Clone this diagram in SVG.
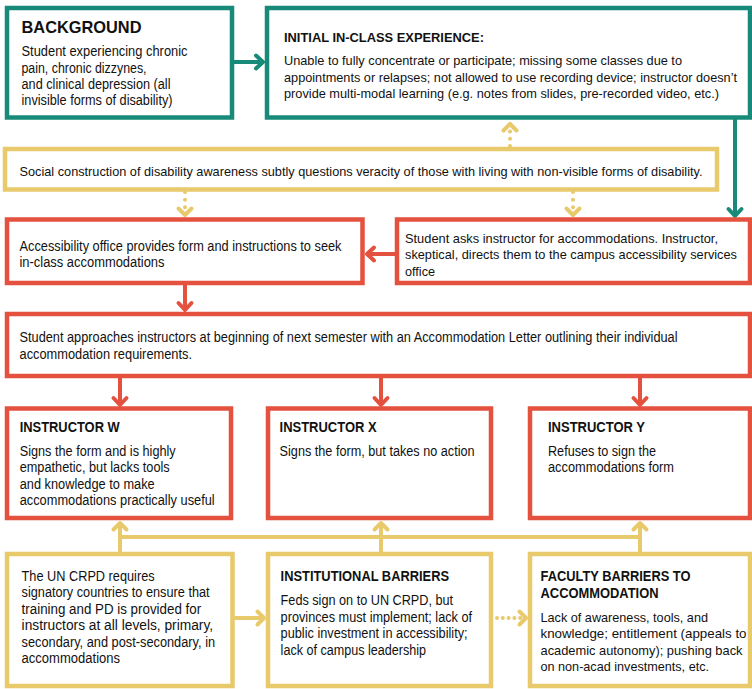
<svg xmlns="http://www.w3.org/2000/svg" width="752" height="689" viewBox="0 0 752 689">
<style>
.box{fill:#fff;stroke-width:4.5}
.teal{stroke:#178a7a}
.red{stroke:#e4513f}
.yel{stroke:#e8c96c}
text{font-family:"Liberation Sans",Arial,sans-serif;fill:#111;font-size:14px}
.t{font-weight:bold}
.big{font-size:17px}
.sm{font-size:13px}
.ln{fill:none;stroke-width:4}
.dot{stroke-dasharray:0 7.3;stroke-linecap:round}
</style>
<defs>
<marker id="aT" markerUnits="userSpaceOnUse" orient="auto" overflow="visible" refX="0" refY="0" markerWidth="1" markerHeight="1"><path d="M-7,-6.5 L0,0 L-7,6.5" fill="none" stroke="#178a7a" stroke-width="4" stroke-linecap="round" stroke-linejoin="round" stroke-dasharray="none"/></marker>
<marker id="aR" markerUnits="userSpaceOnUse" orient="auto" overflow="visible" refX="0" refY="0" markerWidth="1" markerHeight="1"><path d="M-7,-6.5 L0,0 L-7,6.5" fill="none" stroke="#e4513f" stroke-width="4" stroke-linecap="round" stroke-linejoin="round" stroke-dasharray="none"/></marker>
<marker id="aY" markerUnits="userSpaceOnUse" orient="auto" overflow="visible" refX="0" refY="0" markerWidth="1" markerHeight="1"><path d="M-6.5,-6.5 L0,0 L-6.5,6.5" fill="none" stroke="#e8c96c" stroke-width="4" stroke-linecap="round" stroke-linejoin="round" stroke-dasharray="none"/></marker>
</defs>

<g id="connectors">
<path class="ln teal" d="M232,62 H263" marker-end="url(#aT)"/>
<path class="ln teal" d="M735,117 V216" marker-end="url(#aT)"/>
<path class="ln yel dot" d="M510,146 V124" marker-end="url(#aY)"/>
<path class="ln yel dot" d="M185,192 V215" style="stroke-dasharray:0 7.67" marker-end="url(#aY)"/>
<path class="ln yel dot" d="M573,192 V215" style="stroke-dasharray:0 7.67" marker-end="url(#aY)"/>
<path class="ln red" d="M397,254 H367" marker-end="url(#aR)"/>
<path class="ln red" d="M185,283 V310" marker-end="url(#aR)"/>
<path class="ln red" d="M120,376 V405" marker-end="url(#aR)"/>
<path class="ln red" d="M381,376 V405" marker-end="url(#aR)"/>
<path class="ln red" d="M640,376 V405" marker-end="url(#aR)"/>
<path class="ln yel" d="M120,537 H640"/>
<path class="ln yel" d="M120,553 V523" marker-end="url(#aY)"/>
<path class="ln yel" d="M381,553 V523" marker-end="url(#aY)"/>
<path class="ln yel" d="M640,553 V523" marker-end="url(#aY)"/>
<path class="ln yel" d="M232,618 H264" marker-end="url(#aY)"/>
<path class="ln yel dot" d="M497,618 H526" style="stroke-dasharray:0 5.8" marker-end="url(#aY)"/>
</g>

<g id="background">
<rect class="box teal" x="7" y="8" width="225" height="109.5"/>
<text class="t big" x="21.5" y="33" textLength="120" lengthAdjust="spacingAndGlyphs">BACKGROUND</text>
<text x="21.5" y="56" textLength="166" lengthAdjust="spacingAndGlyphs">Student experiencing chronic</text>
<text x="21.5" y="72.5" textLength="125" lengthAdjust="spacingAndGlyphs">pain, chronic dizzynes,</text>
<text x="21.5" y="89" textLength="149" lengthAdjust="spacingAndGlyphs">and clinical depression (all</text>
<text x="21.5" y="105" textLength="151" lengthAdjust="spacingAndGlyphs">invisible forms of disability)</text>
</g>

<g id="initial">
<rect class="box teal" x="267" y="8" width="483" height="109.5"/>
<text class="t sm" x="284" y="41.5" textLength="200" lengthAdjust="spacingAndGlyphs">INITIAL IN-CLASS EXPERIENCE:</text>
<text class="sm" x="284" y="65" textLength="398" lengthAdjust="spacingAndGlyphs">Unable to fully concentrate or participate; missing some classes due to</text>
<text class="sm" x="284" y="81.5" textLength="453" lengthAdjust="spacingAndGlyphs">appointments or relapses; not allowed to use recording device; instructor doesn’t</text>
<text class="sm" x="284" y="98" textLength="435" lengthAdjust="spacingAndGlyphs">provide multi-modal learning (e.g. notes from slides, pre-recorded video, etc.)</text>
</g>

<g id="social">
<rect class="box yel" x="5" y="149" width="712" height="40.5"/>
<text class="sm" x="19.5" y="176" textLength="683" lengthAdjust="spacingAndGlyphs">Social construction of disability awareness subtly questions veracity of those with living with non-visible forms of disability.</text>
</g>

<g id="access-office">
<rect class="box red" x="7" y="219.5" width="355.5" height="63.5"/>
<text x="19.5" y="250.5" textLength="322" lengthAdjust="spacingAndGlyphs">Accessibility office provides form and instructions to seek</text>
<text x="19.5" y="267" textLength="145" lengthAdjust="spacingAndGlyphs">in-class accommodations</text>
</g>

<g id="student-asks">
<rect class="box red" x="397" y="219.5" width="353" height="63.5"/>
<text class="sm" x="405" y="242.5" textLength="313" lengthAdjust="spacingAndGlyphs">Student asks instructor for accommodations. Instructor,</text>
<text class="sm" x="405" y="259" textLength="332" lengthAdjust="spacingAndGlyphs">skeptical, directs them to the campus accessibility services</text>
<text class="sm" x="405" y="275.5" textLength="30" lengthAdjust="spacingAndGlyphs">office</text>
</g>

<g id="student-approaches">
<rect class="box red" x="7" y="314" width="743" height="62"/>
<text x="19.5" y="342" textLength="658" lengthAdjust="spacingAndGlyphs">Student approaches instructors at beginning of next semester with an Accommodation Letter outlining their individual</text>
<text x="19.5" y="358.5" textLength="172.5" lengthAdjust="spacingAndGlyphs">accommodation requirements.</text>
</g>

<g id="instructor-w">
<rect class="box red" x="7" y="408.5" width="224" height="109.5"/>
<text class="t" x="19.7" y="432" textLength="100" lengthAdjust="spacingAndGlyphs">INSTRUCTOR W</text>
<text x="19.7" y="455.5" textLength="156" lengthAdjust="spacingAndGlyphs">Signs the form and is highly</text>
<text x="19.7" y="472" textLength="150" lengthAdjust="spacingAndGlyphs">empathetic, but lacks tools</text>
<text x="19.7" y="488.5" textLength="135" lengthAdjust="spacingAndGlyphs">and knowledge to make</text>
<text x="19.7" y="505" textLength="195" lengthAdjust="spacingAndGlyphs">accommodations practically useful</text>
</g>

<g id="instructor-x">
<rect class="box red" x="268" y="408.5" width="223" height="109.5"/>
<text class="t" x="279.6" y="432" textLength="97" lengthAdjust="spacingAndGlyphs">INSTRUCTOR X</text>
<text x="279.6" y="455.5" textLength="195" lengthAdjust="spacingAndGlyphs">Signs the form, but takes no action</text>
</g>

<g id="instructor-y">
<rect class="box red" x="530" y="408.5" width="220" height="109.5"/>
<text class="t" x="548" y="432" textLength="97" lengthAdjust="spacingAndGlyphs">INSTRUCTOR Y</text>
<text x="548" y="455.5" textLength="108" lengthAdjust="spacingAndGlyphs">Refuses to sign the</text>
<text x="548" y="472" textLength="126" lengthAdjust="spacingAndGlyphs">accommodations form</text>
</g>

<g id="un-crpd">
<rect class="box yel" x="7" y="554" width="225.5" height="132"/>
<text x="21.6" y="580.5" textLength="133" lengthAdjust="spacingAndGlyphs">The UN CRPD requires</text>
<text x="21.6" y="597" textLength="188" lengthAdjust="spacingAndGlyphs">signatory countries to ensure that</text>
<text x="21.6" y="613.5" textLength="179.5" lengthAdjust="spacingAndGlyphs">training and PD is provided for</text>
<text x="21.6" y="630" textLength="191.5" lengthAdjust="spacingAndGlyphs">instructors at all levels, primary,</text>
<text x="21.6" y="646.5" textLength="193.5" lengthAdjust="spacingAndGlyphs">secondary, and post-secondary, in</text>
<text x="21.6" y="663" textLength="98.5" lengthAdjust="spacingAndGlyphs">accommodations</text>
</g>

<g id="institutional">
<rect class="box yel" x="268" y="554" width="223" height="132"/>
<text class="t" x="280.6" y="581" textLength="168.5" lengthAdjust="spacingAndGlyphs">INSTITUTIONAL BARRIERS</text>
<text x="280.6" y="605" textLength="172.5" lengthAdjust="spacingAndGlyphs">Feds sign on to UN CRPD, but</text>
<text x="280.6" y="621.5" textLength="191.5" lengthAdjust="spacingAndGlyphs">provinces must implement; lack of</text>
<text x="280.6" y="638" textLength="187" lengthAdjust="spacingAndGlyphs">public investment in accessibility;</text>
<text x="280.6" y="654.5" textLength="145.5" lengthAdjust="spacingAndGlyphs">lack of campus leadership</text>
</g>

<g id="faculty">
<rect class="box yel" x="530" y="554" width="220" height="132"/>
<text class="t" x="540.5" y="581" textLength="150" lengthAdjust="spacingAndGlyphs">FACULTY BARRIERS TO</text>
<text class="t" x="540.5" y="597.5" textLength="118" lengthAdjust="spacingAndGlyphs">ACCOMMODATION</text>
<text class="sm" x="540.5" y="621.5" textLength="167.5" lengthAdjust="spacingAndGlyphs">Lack of awareness, tools, and</text>
<text class="sm" x="540.5" y="638" textLength="206" lengthAdjust="spacingAndGlyphs">knowledge; entitlement (appeals to</text>
<text class="sm" x="540.5" y="654.5" textLength="202" lengthAdjust="spacingAndGlyphs">academic autonomy); pushing back</text>
<text class="sm" x="540.5" y="671" textLength="168.5" lengthAdjust="spacingAndGlyphs">on non-acad investments, etc.</text>
</g>
</svg>
